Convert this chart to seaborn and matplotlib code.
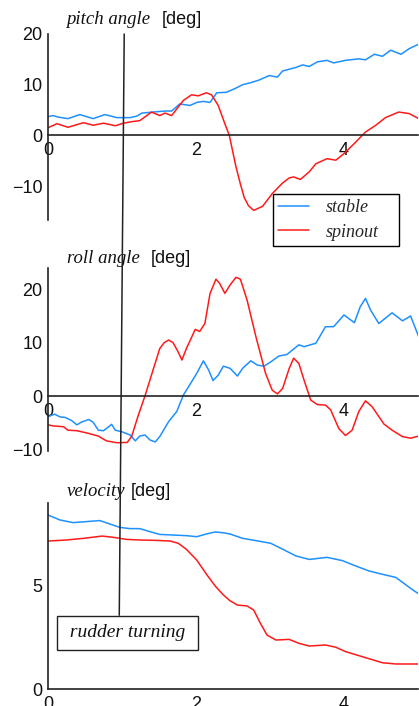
import matplotlib
matplotlib.use("Agg")
import matplotlib.pyplot as plt
import seaborn as sns
from matplotlib.patches import ConnectionPatch
from matplotlib.ticker import FixedLocator, FixedFormatter

# ---------------- data ----------------
pitch_stable_t = [0, 0.07, 0.14, 0.27, 0.43, 0.61, 0.77, 0.93, 1.11, 1.20, 1.27, 1.42, 1.58, 1.67, 1.78,
                  1.92, 2.01, 2.10, 2.19, 2.28, 2.41, 2.46, 2.55, 2.63, 2.74, 2.85, 2.99, 3.10, 3.17, 3.35,
                  3.44, 3.53, 3.64, 3.77, 3.86, 4.02, 4.20, 4.29, 4.41, 4.52, 4.63, 4.77, 4.88, 5.01]
pitch_stable = [3.7, 3.9, 3.6, 3.3, 4.1, 3.3, 4.1, 3.5, 3.5, 3.8, 4.4, 4.6, 4.8, 4.8, 6.2,
                5.9, 6.5, 6.7, 6.5, 8.4, 8.5, 8.8, 9.4, 10.0, 10.4, 10.9, 11.8, 11.5, 12.7, 13.4,
                13.9, 13.6, 14.5, 14.8, 14.3, 14.8, 15.1, 14.9, 16.0, 15.6, 16.8, 16.0, 17.1, 18.0]

pitch_spin_t = [0, 0.12, 0.27, 0.48, 0.61, 0.75, 0.91, 1.02, 1.13, 1.24, 1.40, 1.51, 1.58, 1.67, 1.83,
                1.94, 2.03, 2.14, 2.21, 2.30, 2.39, 2.45, 2.54, 2.60, 2.65, 2.71, 2.78, 2.90, 3.03, 3.17,
                3.26, 3.32, 3.41, 3.53, 3.62, 3.77, 3.89, 4.00, 4.14, 4.29, 4.43, 4.56, 4.74, 4.88, 5.01]
pitch_spin = [1.5, 2.3, 1.6, 2.5, 2.0, 2.4, 1.9, 2.4, 2.7, 2.9, 4.6, 3.9, 4.4, 3.9, 6.9,
              8.0, 7.8, 8.4, 8.0, 5.9, 2.3, 0.0, -6.2, -9.6, -12.2, -13.9, -14.8, -14.0, -11.5, -9.4,
              -8.4, -8.2, -8.7, -7.2, -5.6, -4.6, -4.9, -3.6, -1.6, 0.65, 2.0, 3.5, 4.6, 4.3, 3.3]

roll_stable_t = [0, 0.05, 0.09, 0.16, 0.23, 0.32, 0.39, 0.45, 0.55, 0.61, 0.68, 0.75, 0.82, 0.86, 0.91,
                 1.0, 1.11, 1.18, 1.24, 1.31, 1.38, 1.45, 1.51, 1.63, 1.74, 1.83, 1.90, 2.01, 2.10, 2.17,
                 2.23, 2.30, 2.37, 2.46, 2.56, 2.63, 2.74, 2.83, 2.92, 3.01, 3.12, 3.23, 3.39, 3.46, 3.62,
                 3.75, 3.86, 4.0, 4.14, 4.22, 4.29, 4.36, 4.47, 4.65, 4.79, 4.90, 5.01]
roll_stable = [-3.9, -3.6, -3.4, -3.9, -4.0, -4.6, -5.4, -4.9, -4.4, -4.9, -6.4, -6.5, -5.75, -5.3, -6.4,
               -6.7, -7.3, -8.4, -7.5, -7.3, -8.25, -8.6, -7.6, -4.8, -2.9, 0.2, 1.75, 4.25, 6.6, 4.9,
               2.9, 3.9, 5.6, 5.2, 3.75, 5.2, 6.6, 5.8, 5.6, 6.4, 7.5, 7.8, 9.6, 9.25, 9.9,
               13.0, 13.0, 15.2, 13.75, 16.75, 18.3, 16.1, 13.6, 15.6, 14.1, 15.0, 11.1]

roll_spin_t = [0, 0.07, 0.21, 0.27, 0.39, 0.52, 0.68, 0.79, 0.93, 1.07, 1.13, 1.22, 1.31, 1.42, 1.51,
               1.57, 1.63, 1.69, 1.75, 1.81, 1.87, 1.99, 2.05, 2.12, 2.19, 2.27, 2.32, 2.39, 2.46, 2.54,
               2.60, 2.69, 2.81, 2.94, 3.03, 3.10, 3.17, 3.26, 3.32, 3.39, 3.46, 3.55, 3.64, 3.75, 3.82,
               3.93, 4.02, 4.11, 4.20, 4.29, 4.38, 4.54, 4.65, 4.79, 4.90, 5.01]
roll_spin = [-5.4, -5.6, -5.75, -6.4, -6.5, -6.9, -7.5, -8.4, -8.75, -8.7, -7.6, -3.6, 0.0, 4.9, 8.9,
             10.0, 10.5, 10.0, 8.5, 6.75, 8.9, 12.5, 12.1, 13.6, 19.25, 21.9, 21.1, 19.25, 20.8, 22.25,
             21.9, 18.0, 11.1, 4.25, 1.1, 0.4, 1.4, 5.2, 7.1, 6.1, 3.0, -0.75, -1.6, -1.7, -2.6,
             -6.1, -7.4, -6.4, -2.9, -0.9, -2.0, -5.25, -6.4, -7.6, -7.9, -7.5]

vel_stable_t = [0, 0.16, 0.34, 0.52, 0.70, 0.84, 0.97, 1.11, 1.24, 1.38, 1.51, 1.69, 1.87, 2.01, 2.14,
                2.26, 2.37, 2.46, 2.63, 2.81, 3.01, 3.19, 3.35, 3.53, 3.77, 3.98, 4.16, 4.34, 4.52, 4.70,
                4.81, 4.90, 5.01]
vel_stable = [8.42, 8.18, 8.05, 8.1, 8.15, 7.98, 7.82, 7.76, 7.76, 7.61, 7.48, 7.45, 7.42, 7.37, 7.5,
              7.6, 7.56, 7.5, 7.29, 7.18, 7.05, 6.73, 6.44, 6.27, 6.37, 6.21, 5.95, 5.71, 5.55, 5.40,
              5.11, 4.87, 4.6]

vel_spin_t = [0, 0.25, 0.48, 0.73, 0.88, 1.06, 1.24, 1.47, 1.65, 1.76, 1.87, 2.01, 2.14, 2.26, 2.37,
              2.46, 2.56, 2.69, 2.78, 2.87, 2.96, 3.08, 3.26, 3.39, 3.53, 3.75, 3.89, 4.02, 4.25, 4.52,
              4.70, 5.01]
vel_spin = [7.16, 7.21, 7.29, 7.4, 7.34, 7.24, 7.21, 7.19, 7.16, 7.05, 6.76, 6.24, 5.56, 4.98, 4.55,
            4.27, 4.06, 4.02, 3.82, 3.18, 2.61, 2.37, 2.40, 2.21, 2.08, 2.13, 2.02, 1.81, 1.56, 1.27,
            1.21, 1.21]

series_labels = ["stable", "spinout"]
panel_titles = ["pitch angle", "roll angle", "velocity"]
unit_label = "[deg]"
note_text = "rudder turning"

x_ticks = [0, 1, 2, 3, 4, 5]
x_tick_labels = ["0", "", "2", "", "4", ""]
x_minor = [0.5, 1.5, 2.5, 3.5, 4.5]
angle_ticks = [-10, 0, 10, 20]
angle_minor = [-15, -5, 5, 15]
vel_ticks = [0, 1, 2, 3, 4, 5, 6, 7, 8, 9]
vel_tick_labels = ["0", "", "", "", "", "5", "", "", "", ""]

# annotation line endpoints (top panel data coords -> velocity panel data coords)
rudder_top = (1.03, 20.0)
rudder_bottom = (0.963, 3.57)
note_pos = (1.074, 2.71)

BLUE = "#1e90ff"
RED = "#ff1a1a"

# ---------------- figure ----------------
sns.set_style("white")
plt.rcParams["font.family"] = ["Liberation Sans", "DejaVu Sans"]

W, H = 419, 706
fig = plt.figure(figsize=(W / 100, H / 100), dpi=100)


def ax_at(left, top, right, bottom):
    return fig.add_axes([left / W, 1 - bottom / H, (right - left) / W, (bottom - top) / H])


ax1 = ax_at(48, 34, 418, 220)
ax2 = ax_at(48, 268, 418, 451)
ax3 = ax_at(48, 503, 418, 689)

ax1.set_ylim(-16.7, 20)
ax2.set_ylim(-10.3, 24)
ax3.set_ylim(0, 9)

lw = 1.1
common = dict(lw=lw, sort=False, estimator=None)
sns.lineplot(x=pitch_stable_t, y=pitch_stable, ax=ax1, color=BLUE, label=series_labels[0], **common)
sns.lineplot(x=pitch_spin_t, y=pitch_spin, ax=ax1, color=RED, label=series_labels[1], **common)
sns.lineplot(x=roll_stable_t, y=roll_stable, ax=ax2, color=BLUE, **common)
sns.lineplot(x=roll_spin_t, y=roll_spin, ax=ax2, color=RED, **common)
sns.lineplot(x=vel_stable_t, y=vel_stable, ax=ax3, color=BLUE, **common)
sns.lineplot(x=vel_spin_t, y=vel_spin, ax=ax3, color=RED, **common)

for ax in (ax1, ax2, ax3):
    ax.set_xlim(0, 5)
    ax.patch.set_alpha(0)
    ax.spines["top"].set_visible(False)
    ax.spines["right"].set_visible(False)
    ax.spines["bottom"].set_position(("data", 0))
    for s in ("left", "bottom"):
        ax.spines[s].set_color("#222222")
        ax.spines[s].set_linewidth(1.2)
    ax.xaxis.set_major_locator(FixedLocator(x_ticks))
    ax.xaxis.set_major_formatter(FixedFormatter(x_tick_labels))
    ax.xaxis.set_minor_locator(FixedLocator(x_minor))
    ax.tick_params(which="major", direction="inout", length=8, width=1.1, color="#222222",
                   labelsize=13, pad=0)
    ax.tick_params(which="minor", direction="inout", length=5, width=1.0, color="#222222")
    ax.tick_params(axis="x", which="major", pad=1)
    ax.set_xlabel("")
    ax.set_ylabel("")
    for lab in ax.get_xticklabels() + ax.get_yticklabels():
        lab.set_color("#111111")

for ax in (ax1, ax2):
    ax.yaxis.set_major_locator(FixedLocator(angle_ticks))
    ax.yaxis.set_minor_locator(FixedLocator(angle_minor))
ax3.yaxis.set_major_locator(FixedLocator(vel_ticks))
ax3.yaxis.set_major_formatter(FixedFormatter(vel_tick_labels))

# legend
leg = ax1.legend(loc="upper left", bbox_to_anchor=(0.608, 0.14, 0.341, 0.0), mode="expand",
                 frameon=True, fancybox=False, edgecolor="black", framealpha=1,
                 prop={"family": "Liberation Serif", "style": "italic", "size": 13},
                 handlelength=1.7, handletextpad=0.9, labelspacing=0.4, borderpad=0.3,
                 borderaxespad=0)
leg.get_frame().set_linewidth(1.0)
leg.set_zorder(5)

# titles
serif = dict(family="Liberation Serif", style="italic", size=13.5, va="baseline", ha="left",
             color="#111111")
sans = dict(family="Liberation Sans", size=13, va="baseline", ha="left", color="#111111")
title_rows = [(66, 162, 23.5), (67, 151, 262.5), (67, 131, 496.5)]
for (xs, xu, yb), t in zip(title_rows, panel_titles):
    fig.text(xs / W, 1 - yb / H, t, **serif)
    fig.text(xu / W, 1 - yb / H, unit_label, **sans)

# rudder turning line and box
con = ConnectionPatch(xyA=rudder_top, coordsA=ax1.transData, xyB=rudder_bottom, coordsB=ax3.transData,
                      color="#222222", lw=1.1, zorder=6)
fig.add_artist(con)
ax3.text(note_pos[0], note_pos[1], " " + note_text + " ", family="Liberation Serif", style="italic",
         size=14, ha="center", va="center", color="#111111", zorder=7,
         bbox=dict(boxstyle="square,pad=0.42", fc="white", ec="#222222", lw=1.0))

fig.savefig("out.png", dpi=100)
